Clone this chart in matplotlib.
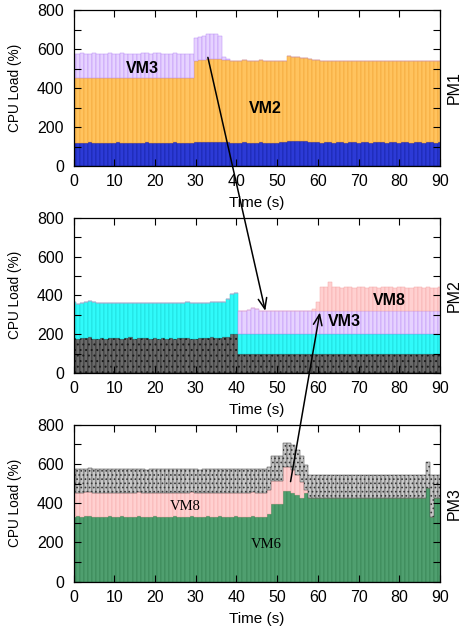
import matplotlib
matplotlib.use("Agg")
import matplotlib.pyplot as plt
from matplotlib.patches import ConnectionPatch
import numpy as np

plt.rcParams['font.family'] = ['Liberation Sans', 'DejaVu Sans']
plt.rcParams['hatch.linewidth'] = 0.7

t = list(range(0, 91))

# ---- PM1 (stack components, bottom to top) ----
pm1_vm1 = [120,120,119,120,121,120,120,119,120,120, 120,121,120,120,119,120,120,120,121,120,
           120,120,119,120,120,121,120,120,120,120, 121,122,123,123,124,123,122,121,121,120,
           120,120,121,120,120,120,121,120,120,120, 120,121,122,127,128,128,127,126,123,121,
           121,120,121,121,120,121,121,120,121,121, 120,121,121,120,121,121,121,120,121,121,
           120,121,121,120,121,121,120,121,121,120, 121]
pm1_vm2 = [330,331,333,330,329,331,332,330,331,333, 331,330,332,331,333,330,329,331,332,330,
           331,333,331,330,329,332,331,330,331,330, 419,421,423,425,424,426,425,424,421,420,
           420,419,421,420,419,420,421,420,419,420, 421,420,419,438,433,430,428,426,425,423,
           422,420,419,418,419,420,418,417,419,418, 420,418,417,418,419,420,418,417,418,419,
           417,418,419,418,417,418,420,419,418,417, 418]
pm1_vm3 = [122,124,125,123,124,126,124,125,123,124, 125,124,126,124,123,125,124,126,125,124,
           127,125,124,123,124,125,124,123,124,123, 118,120,122,127,128,126,122,12,8,0,
           0,0,0,0,0,0,0,0,0,0, 0,0,0,0,0,0,0,0,0,0,
           0,0,0,0,0,0,0,0,0,0, 0,0,0,0,0,0,0,0,0,0,
           0,0,0,0,0,0,0,0,0,0, 0]

# ---- PM2 ----
pm2_gray = [179,176,182,178,187,177,175,180,176,179, 178,181,176,179,183,177,180,178,182,176,
            179,177,181,176,178,175,180,178,182,177, 176,181,179,178,183,180,182,185,188,199,
            199,96,96,96,96,96,96,96,96,96, 96,96,96,96,96,96,96,96,96,96,
            96,96,96,96,96,96,96,96,96,96, 96,96,96,96,96,96,96,96,96,96,
            96,96,96,96,96,96,96,96,96,96, 96]
pm2_cyan = [185,180,181,186,182,188,184,182,186,181, 183,182,185,183,180,184,182,184,181,186,
            183,185,182,186,184,186,181,184,182,186, 187,182,184,185,182,186,186,181,195,210,
            212,103,103,103,103,103,103,103,103,103, 103,103,103,103,103,103,103,103,103,103,
            103,103,103,103,103,103,103,103,103,103, 103,103,103,103,103,103,103,103,103,103,
            103,103,103,103,103,103,103,103,103,103, 103]
pm2_vm3 = [0,0,0,0,0,0,0,0,0,0, 0,0,0,0,0,0,0,0,0,0,
           0,0,0,0,0,0,0,0,0,0, 0,0,0,0,0,0,0,0,0,0,
           0,119,122,126,134,132,122,121,121,120, 121,121,120,121,121,120,121,121,121,121,
           121,120,121,121,121,121,121,120,121,121, 121,121,121,121,120,121,121,121,121,121,
           121,121,120,121,121,121,121,121,121,121, 121]
pm2_vm8 = [0,0,0,0,0,0,0,0,0,0, 0,0,0,0,0,0,0,0,0,0,
           0,0,0,0,0,0,0,0,0,0, 0,0,0,0,0,0,0,0,0,0,
           0,0,0,0,0,0,0,0,0,0, 0,0,0,0,0,0,0,0,0,10,
           47,122,124,150,123,121,120,122,121,120, 122,121,120,121,122,120,121,122,121,120,
           121,123,121,120,122,121,120,121,120,120, 121]

# ---- PM3 ----
pm3_vm6 = [332,333,331,333,334,332,331,332,331,333, 332,331,333,332,331,332,333,331,332,331,
           333,332,332,331,332,333,332,331,332,333, 332,331,332,333,331,332,333,332,331,332,
           333,332,331,332,333,332,332,332,345,396, 396,396,461,461,451,442,425,451,425,424,
           425,426,425,424,425,426,425,424,426,425, 424,425,426,425,424,425,426,425,424,425,
           426,425,424,425,426,425,424,479,330,425, 425]
pm3_vm8 = [122,121,123,122,121,122,121,122,123,121, 122,123,121,122,121,122,122,123,121,122,
           121,122,121,123,122,121,122,123,121,122, 122,121,122,121,123,122,121,122,121,122,
           121,122,123,121,122,121,122,122,123,119, 119,119,123,123,119,102,85,17,0,0,
           0,0,0,0,0,0,0,0,0,0, 0,0,0,0,0,0,0,0,0,0,
           0,0,0,0,0,0,0,0,0,0, 0]
pm3_gray = [119,120,118,121,122,119,120,118,121,119, 120,119,122,118,120,121,119,120,118,121,
            119,120,121,118,119,120,122,119,120,121, 119,118,120,121,119,120,118,121,120,119,
            121,120,118,119,121,120,119,119,119,123, 123,123,122,122,127,128,128,127,119,119,
            120,119,118,119,120,119,118,120,119,120, 119,118,120,119,120,119,118,120,119,120,
            119,118,120,119,120,119,118,133,214,119, 119]

C_BLUE = ('#2c3ad6', '#121e9c')
C_ORANGE = ('#ffc35e', '#f0a030')
C_PURPLE = ('#e6d2ff', '#b98cf5')
C_CYAN = ('#30fafa', '#18cfcf')
C_DGRAY = ('#6a6a6a', '#1a1a1a')
C_PINK = ('#ffd0d0', '#f4a8a8')
C_LGRAY = ('#c8c8c8', '#3a3a3a')
C_GREEN = ('#4f9f6f', '#2f7a4d')

fig = plt.figure(figsize=(4.61, 6.33), dpi=100)
L, W = 73.5 / 461, 366.5 / 461
ax1 = fig.add_axes([L, 467 / 633, W, 156 / 633])
ax2 = fig.add_axes([L, 260 / 633, W, 155.3 / 633])
ax3 = fig.add_axes([L, 51.3 / 633, W, 157 / 633])


def stack(ax, series):
    bottom = np.zeros(len(t))
    for vals, (fc, ec), hatch in series:
        v = np.array(vals, dtype=float)
        ax.bar(t, v, width=1.0, bottom=bottom, color=fc, edgecolor=ec,
               linewidth=0.35, hatch=hatch, zorder=1)
        bottom = bottom + v


stack(ax1, [(pm1_vm1, C_BLUE, None), (pm1_vm2, C_ORANGE, None), (pm1_vm3, C_PURPLE, None)])
stack(ax2, [(pm2_gray, C_DGRAY, '...'), (pm2_cyan, C_CYAN, None), (pm2_vm3, C_PURPLE, None),
            (pm2_vm8, C_PINK, None)])
stack(ax3, [(pm3_vm6, C_GREEN, None), (pm3_vm8, C_PINK, None), (pm3_gray, C_LGRAY, '....')])

for ax, pm in [(ax1, 'PM1'), (ax2, 'PM2'), (ax3, 'PM3')]:
    ax.set_xlim(0, 90)
    ax.set_ylim(0, 800)
    ax.set_xticks(range(0, 91, 10))
    ax.set_yticks(range(0, 801, 200))
    ax.set_yticks(range(0, 801, 100), minor=True)
    ax.tick_params(axis='both', which='both', direction='in', top=True, right=True,
                   labelsize=11.5, length=5, width=0.8)
    ax.tick_params(axis='x', pad=6)
    ax.tick_params(axis='y', pad=7)
    for s in ax.spines.values():
        s.set_linewidth(0.9)
    ax.set_xlabel('Time (s)', fontsize=11)
    ax.xaxis.set_label_coords(0.5, -0.19)
    ax.set_ylabel('CPU Load (%)', fontsize=9.8)
    ax.yaxis.set_label_coords(-0.14, 0.5)
    ax.text(1.04, 0.5, pm, transform=ax.transAxes, rotation=90, ha='center', va='center',
            fontsize=11.5)

ax1.text(17, 502, 'VM3', fontsize=11.5, fontweight='bold', ha='center', va='center', zorder=5)
ax1.text(47.2, 296, 'VM2', fontsize=11.5, fontweight='bold', ha='center', va='center', zorder=5)
ax2.text(77.6, 376, 'VM8', fontsize=11.5, fontweight='bold', ha='center', va='center', zorder=5)
ax2.text(66.6, 264, 'VM3', fontsize=11.5, fontweight='bold', ha='center', va='center', zorder=5)
ax3.text(27.4, 383, 'VM8', fontsize=10.5, family=['Liberation Serif'], ha='center', va='center', zorder=5)
ax3.text(47.4, 192, 'VM6', fontsize=10.5, family=['Liberation Serif'], ha='center', va='center', zorder=5)

astyle = '->,head_length=0.55,head_width=0.22'
a1 = ConnectionPatch(xyA=(33.0, 557), coordsA=ax1.transData, xyB=(47.1, 320), coordsB=ax2.transData,
                     arrowstyle=astyle, mutation_scale=14, linewidth=1.1, color='black', zorder=10)
fig.add_artist(a1)
a2 = ConnectionPatch(xyA=(53.3, 510), coordsA=ax3.transData, xyB=(60.5, 312), coordsB=ax2.transData,
                     arrowstyle=astyle, mutation_scale=14, linewidth=1.1, color='black', zorder=10)
fig.add_artist(a2)

fig.savefig('out.png', dpi=100)
